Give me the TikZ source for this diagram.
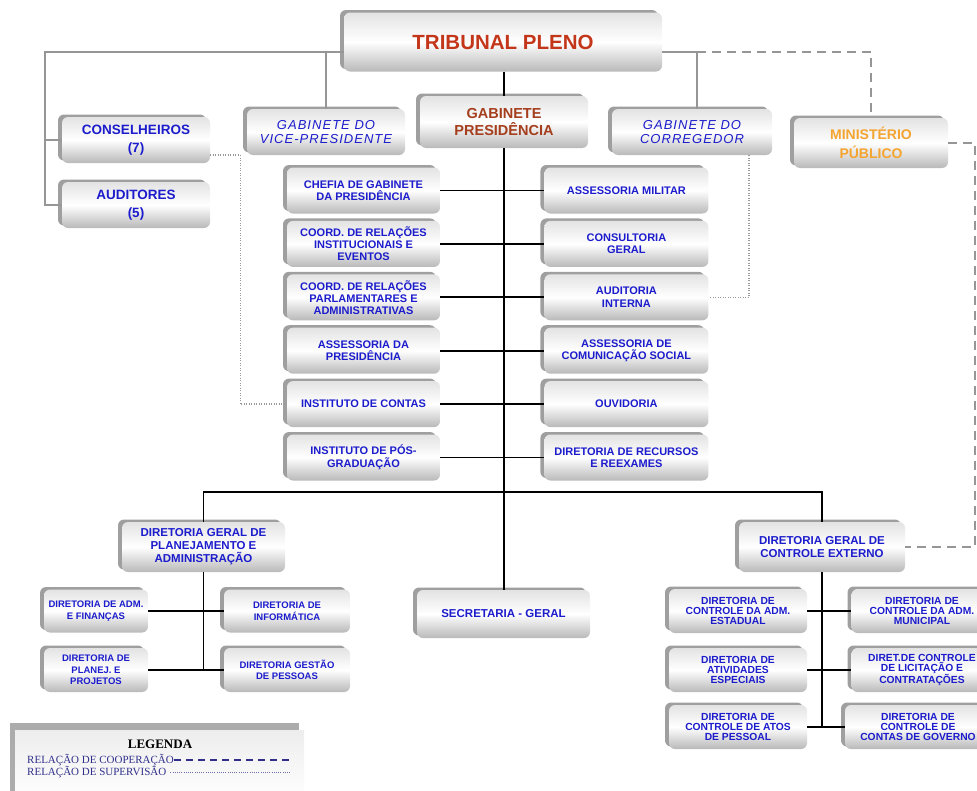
\documentclass[tikz,border=0pt]{standalone}
\usepackage{fontspec}
\setmainfont{Liberation Sans}
\newfontfamily\legfont{Liberation Serif}
\newfontfamily\spacedfont[LetterSpace=8.0]{Liberation Sans}
\usetikzlibrary{positioning, shadows}
\definecolor{unitblue}{RGB}{28,28,205}
\definecolor{plenored}{RGB}{196,54,26}
\definecolor{presbrown}{RGB}{165,62,28}
\definecolor{mporange}{RGB}{244,164,48}
\definecolor{legblue}{RGB}{48,48,140}
\definecolor{railgray}{RGB}{150,150,150}

\begin{document}
\begin{tikzpicture}[x=1pt, y=-1pt, node distance=7pt and 104pt,
    unit/.style={rounded corners=6pt, align=center, inner sep=1pt, text=unitblue,
      font=\bfseries\fontsize{11}{12.5}\selectfont,
      top color=gray!22, bottom color=gray!55, middle color=white,
      general shadow={fill=gray!75, shadow xshift=-4pt, shadow yshift=2.5pt}},
    leftcol/.style={unit, minimum width=153pt, minimum height=46pt},
    rightcol/.style={unit, minimum width=164pt, minimum height=46pt},
    cabinet/.style={unit, font=\spacedfont\itshape\fontsize{13}{14}\selectfont,
      minimum width=158pt, minimum height=46pt},
    member/.style={unit, font=\bfseries\fontsize{13.5}{18}\selectfont,
      minimum width=148pt, minimum height=46pt},
    general/.style={unit, font=\bfseries\fontsize{11.5}{13}\selectfont, minimum height=50pt},
    subunit/.style={unit, font=\bfseries\fontsize{9.5}{11.5}\selectfont, minimum height=44pt},
    ceunit/.style={unit, font=\bfseries\fontsize{10.3}{10}\selectfont, minimum height=44pt},
    bline/.style={draw=black, line width=1.8pt},
    thinline/.style={draw=black, line width=1.3pt},
    gline/.style={draw=railgray, line width=1.6pt},
    coop/.style={gline, dash pattern=on 9pt off 6pt},
    superv/.style={draw=gray!80, line width=1.3pt, dash pattern=on 1pt off 1.5pt},
    legitem/.style={font=\legfont\fontsize{11}{12}\selectfont, text=legblue, inner sep=0pt}]

  \useasboundingbox (0,0) rectangle (977,790);

  % top level
  \node[unit, minimum width=318pt, minimum height=59pt, text=plenored,
    font=\bfseries\fontsize{20.5}{24}\selectfont] (plenum) at (503,42) {TRIBUNAL PLENO};
  \node[unit, minimum width=168pt, minimum height=52pt, text=presbrown,
    font=\bfseries\fontsize{14.5}{17}\selectfont] (pres) at (504,122) {GABINETE\\PRESIDÊNCIA};
  \node[cabinet] (vice) at (326,132) {GABINETE DO\\VICE-PRESIDENTE};
  \node[cabinet, minimum width=160pt] (correg) at (692,132) {GABINETE DO\\CORREGEDOR};
  \node[member, minimum width=154pt, minimum height=50pt, text=mporange,
    font=\bfseries\fontsize{14}{19}\selectfont] (minist) at (871,143) {MINISTÉRIO\\PÚBLICO};
  \node[member] (consel) at (136,140) {CONSELHEIROS\\(7)};
  \node[member] (audit) at (136,205) {AUDITORES\\(5)};

  % presidency units
  \node[leftcol] (chefia) at (363.5,190.5) {CHEFIA DE GABINETE\\DA PRESIDÊNCIA};
  \node[leftcol, below=of chefia, font=\bfseries\fontsize{11}{12}\selectfont] (crinst) {COORD. DE RELAÇÕES\\INSTITUCIONAIS E\\EVENTOS};
  \node[leftcol, below=of crinst, font=\bfseries\fontsize{11}{12}\selectfont] (crparl) {COORD. DE RELAÇÕES\\PARLAMENTARES E\\ADMINISTRATIVAS};
  \node[leftcol, below=of crparl] (asspres) {ASSESSORIA DA\\PRESIDÊNCIA};
  \node[leftcol, below=of asspres] (instcontas) {INSTITUTO DE CONTAS};
  \node[leftcol, below=of instcontas] (posgrad) {INSTITUTO DE PÓS-\\GRADUAÇÃO};

  \node[rightcol, right=of chefia] (milit) {ASSESSORIA MILITAR};
  \node[rightcol, right=of crinst] (consult) {CONSULTORIA\\GERAL};
  \node[rightcol, right=of crparl] (audint) {AUDITORIA\\INTERNA};
  \node[rightcol, right=of asspres] (asscom) {ASSESSORIA DE\\COMUNICAÇÃO SOCIAL};
  \node[rightcol, right=of instcontas] (ouvid) {OUVIDORIA};
  \node[rightcol, right=of posgrad] (recursos) {DIRETORIA DE RECURSOS\\E REEXAMES};

  % lower level
  \node[general, minimum width=163pt] (dgplan) at (203.5,547) {DIRETORIA GERAL DE\\PLANEJAMENTO E\\ADMINISTRAÇÃO};
  \node[subunit, minimum width=104pt, minimum height=43pt] (admfin) at (96,611) {DIRETORIA DE ADM.\\E FINANÇAS};
  \node[subunit, minimum width=126pt, minimum height=43pt] (inform) at (287,611) {DIRETORIA DE\\INFORMÁTICA};
  \node[subunit, minimum width=104pt] (planej) at (96,670) {DIRETORIA DE\\PLANEJ. E\\PROJETOS};
  \node[subunit, minimum width=126pt] (gestao) at (287,670) {DIRETORIA GESTÃO\\DE PESSOAS};
  \node[general, minimum width=173pt, minimum height=48pt] (secret) at (503.5,614) {SECRETARIA - GERAL};
  \node[general, minimum width=166pt] (dgce) at (822,547) {DIRETORIA GERAL DE\\CONTROLE EXTERNO};
  \node[ceunit, minimum width=138pt] (ceest) at (738,611) {DIRETORIA DE\\CONTROLE DA ADM.\\ESTADUAL};
  \node[ceunit, minimum width=138pt] (ceativ) at (738,670) {DIRETORIA DE\\ATIVIDADES\\ESPECIAIS};
  \node[ceunit, minimum width=138pt] (ceatos) at (738,727) {DIRETORIA DE\\CONTROLE DE ATOS\\DE PESSOAL};
  \node[ceunit, minimum width=141pt] (cemun) at (922,611) {DIRETORIA DE\\CONTROLE DA ADM.\\MUNICIPAL};
  \node[ceunit, minimum width=141pt] (celic) at (922,670) {DIRET.DE CONTROLE\\DE LICITAÇÃO E\\CONTRATAÇÕES};
  \node[ceunit, minimum width=146pt] (cegov) at (918,727) {DIRETORIA DE\\CONTROLE DE\\CONTAS DE GOVERNO};

  % legend
  \node[minimum width=289pt, minimum height=70pt, inner sep=0pt, top color=gray!14, bottom color=white,
    general shadow={fill=gray!65, shadow xshift=-5pt, shadow yshift=7pt}] (legbox) at (159.5,765) {};
  \node[font=\legfont\bfseries\fontsize{13}{15}\selectfont, inner sep=0pt] (legtitle) at (160,744) {LEGENDA};
  \node[legitem, anchor=west] (coopkey) at (27,760) {RELAÇÃO DE COOPERAÇÃO};
  \node[legitem, anchor=west] (supkey) at (27,772) {RELAÇÃO DE SUPERVISÃO};
  \coordinate (keyend) at (290,760);

  % connectors
  \coordinate (lrail) at (45,52);
  \coordinate (rrail) at (697,52);
  \coordinate (erail) at (975,143);
  \coordinate (bus) at (504,492);
  \draw[gline] ([yshift=-10pt]plenum.west) -- (lrail) |- (audit.west);
  \draw[gline] (lrail |- consel.west) -- (consel.west);
  \draw[gline] (vice.north |- lrail) -- (vice.north);
  \draw[gline] ([yshift=-10pt]plenum.east) -- (rrail) -- (rrail |- correg.north);
  \draw[coop] (rrail) -| (minist.north);
  \draw[coop] (minist.east) -- (erail) |- (dgce.east);
  \draw[superv] ([yshift=-15pt]consel.east) -- ++(30,0) |- (instcontas.west);
  \draw[superv] ([xshift=57pt]correg.south) |- (audint.east);

  \draw[bline] (pres.north |- plenum.south) -- (pres.north);
  \draw[bline] (pres.south) -- (pres.south |- secret.north);
  \foreach \l/\r in {chefia/milit, crinst/consult, crparl/audint, asspres/asscom,
      instcontas/ouvid, posgrad/recursos}
    \draw[bline] (\l.east) -- (\r.west);
  \draw[bline] (dgplan.north) |- (bus) -| (dgce.north);

  \draw[thinline] (dgplan.south) -- (dgplan.south |- planej.east);
  \draw[thinline] (admfin.east) -- (inform.west);
  \draw[thinline] (planej.east) -- (gestao.west);
  \draw[thinline] (dgce.south) -- (dgce.south |- ceatos.east);
  \draw[thinline] (ceest.east) -- (cemun.west);
  \draw[thinline] (ceativ.east) -- (celic.west);
  \draw[thinline] (ceatos.east) -- (cegov.west);

  \draw[draw=legblue, line width=1.6pt, dash pattern=on 7pt off 5pt] (coopkey.east) -- (keyend);
  \draw[draw=legblue!70, line width=1pt, dash pattern=on 0.8pt off 1.4pt] ([xshift=4pt]supkey.east) -- (supkey.east -| keyend);
\end{tikzpicture}
\end{document}
